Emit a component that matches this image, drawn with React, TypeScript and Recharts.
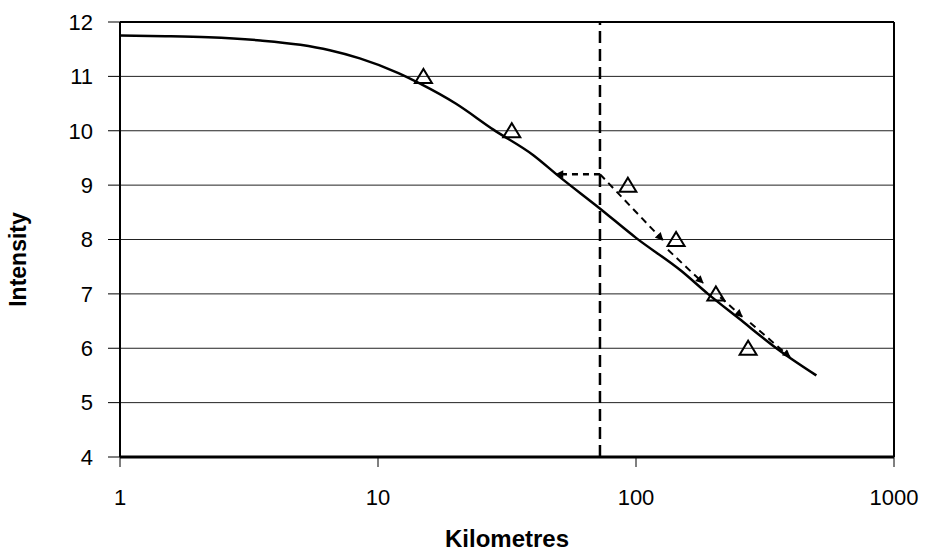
import {
  ComposedChart,
  Line,
  Scatter,
  XAxis,
  YAxis,
  CartesianGrid,
  ReferenceLine,
} from 'recharts';

// attenuation curve (km, intensity)
const curveKm = [1, 1.5, 2.2, 3.5, 5, 6.5, 8.5, 12, 14.5, 20, 28, 40, 50, 72, 100, 150, 190, 250, 350, 500];
const curveIntensity = [11.75, 11.74, 11.72, 11.66, 11.58, 11.48, 11.33, 11.06, 10.87, 10.5, 10.02, 9.55, 9.17, 8.58, 8.03, 7.42, 7.0, 6.55, 6.0, 5.5];

// observed intensities
const obsKm = [15, 33, 93, 143, 204, 272];
const obsIntensity = [11, 10, 9, 8, 7, 6];

const cutoffKm = 72.5;

// dotted leader back to the curve
const leaderKm = [72.5, 49];
const leaderIntensity = [9.2, 9.2];

// dashed arrow segments
const arrowKm = [
  [72.5, 127],
  [133, 182],
  [212, 258],
  [277, 395],
];
const arrowIntensity = [
  [9.2, 7.99],
  [7.81, 7.2],
  [6.94, 6.58],
  [6.47, 5.84],
];

const yTicks = [4, 5, 6, 7, 8, 9, 10, 11, 12];
const xTicks = [1, 10, 100, 1000];

const toPoints = (xs: number[], ys: number[]) => xs.map((x, i) => ({ x, y: ys[i] }));

const curveData = toPoints(curveKm, curveIntensity);
const obsData = toPoints(obsKm, obsIntensity);
const leaderData = toPoints(leaderKm, leaderIntensity);
const arrowData = arrowKm.map((xs, i) => toPoints(xs, arrowIntensity[i]));

const font = '"Liberation Sans", Arial, sans-serif';

const Triangle = (props: any) => {
  const { cx, cy } = props;
  if (cx == null || cy == null) return null;
  return (
    <polygon
      points={`${cx - 8.5},${cy + 6.5} ${cx + 8.5},${cy + 6.5} ${cx},${cy - 7.5}`}
      fill="none"
      stroke="#000"
      strokeWidth={2}
    />
  );
};

const YLabel = (props: any) => {
  const vb = props.viewBox || { x: 0, y: 22, width: 120, height: 435 };
  const x = 18;
  const y = vb.y + vb.height / 2 + 20;
  return (
    <text
      x={x}
      y={y}
      transform={`rotate(-90 ${x} ${y})`}
      textAnchor="middle"
      dominantBaseline="central"
      fontFamily={font}
      fontWeight="bold"
      fontSize={23}
      fill="#000"
    >
      Intensity
    </text>
  );
};

const XLabel = (props: any) => {
  const vb = props.viewBox || { x: 120, y: 457, width: 774, height: 101 };
  return (
    <text
      x={vb.x + vb.width / 2}
      y={vb.y + 90}
      textAnchor="middle"
      fontFamily={font}
      fontWeight="bold"
      fontSize={24}
      fill="#000"
    >
      Kilometres
    </text>
  );
};

const App = () => {
  return (
    <div style={{ position: 'absolute', left: 0, top: 0, background: '#fff' }}>
      <svg width={0} height={0} style={{ position: 'absolute' }}>
        <defs>
          <marker
            id="arrowHead"
            viewBox="0 0 10 10"
            refX="9"
            refY="5"
            markerWidth="10"
            markerHeight="8"
            markerUnits="userSpaceOnUse"
            orient="auto"
          >
            <path d="M0,0 L10,5 L0,10 z" fill="#000" />
          </marker>
        </defs>
      </svg>
      <ComposedChart
        width={926}
        height={558}
        margin={{ top: 22, right: 32, left: 0, bottom: 0 }}
      >
        <CartesianGrid horizontal vertical={false} stroke="#222" strokeWidth={1} />
        <XAxis
          dataKey="x"
          type="number"
          scale="log"
          domain={[1, 1000]}
          ticks={xTicks}
          height={101}
          tickSize={10}
          tickMargin={22}
          axisLine={{ stroke: '#000', strokeWidth: 3 }}
          tickLine={{ stroke: '#000', strokeWidth: 1 }}
          tick={{ fill: '#000', fontSize: 22, fontFamily: font }}
          label={<XLabel />}
        />
        <YAxis
          dataKey="y"
          type="number"
          domain={[4, 12]}
          ticks={yTicks}
          width={120}
          tickSize={12}
          tickMargin={15}
          axisLine={{ stroke: '#000', strokeWidth: 2 }}
          tickLine={{ stroke: '#000', strokeWidth: 1 }}
          tick={{ fill: '#000', fontSize: 22, fontFamily: font }}
          label={<YLabel />}
        />
        <ReferenceLine y={12} stroke="#000" strokeWidth={2} />
        <ReferenceLine x={1000} stroke="#000" strokeWidth={2} />
        <ReferenceLine x={cutoffKm} stroke="#000" strokeWidth={2.5} strokeDasharray="12 6" />
        <Line
          data={curveData}
          dataKey="y"
          type="monotone"
          stroke="#000"
          strokeWidth={2.5}
          dot={false}
          isAnimationActive={false}
        />
        <Line
          data={leaderData}
          dataKey="y"
          type="linear"
          stroke="#000"
          strokeWidth={2.5}
          strokeDasharray="6 5"
          dot={false}
          markerEnd="url(#arrowHead)"
          isAnimationActive={false}
        />
        {arrowData.map((seg, i) => (
          <Line
            key={i}
            data={seg}
            dataKey="y"
            type="linear"
            stroke="#000"
            strokeWidth={2}
            strokeDasharray="7 5"
            dot={false}
            markerEnd="url(#arrowHead)"
            isAnimationActive={false}
          />
        ))}
        <Scatter
          data={obsData}
          dataKey="y"
          shape={<Triangle />}
          isAnimationActive={false}
        />
      </ComposedChart>
    </div>
  );
};

export default App;
